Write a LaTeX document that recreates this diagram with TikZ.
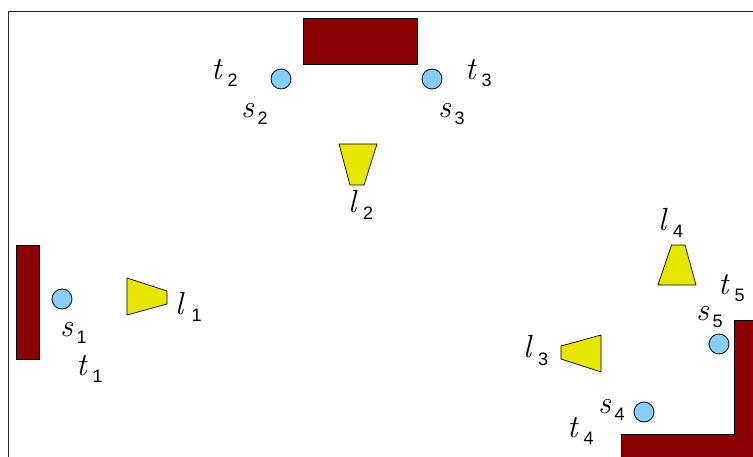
\documentclass[tikz,border=0pt]{standalone}
\usepackage{fontspec}
\setsansfont{Liberation Sans}
\usepackage{xcolor}
\usetikzlibrary{positioning}
\definecolor{wallred}{RGB}{139,0,0}
\definecolor{sensorblue}{RGB}{135,206,250}
\definecolor{lampyellow}{RGB}{230,230,0}
\newcommand{\sublabel}[3][16.5pt]{\makebox[#1][l]{\fontsize{32}{34}\selectfont\itshape #2}%
  \raisebox{-7pt}{\fontsize{18}{19}\selectfont\sffamily #3}}

\begin{document}
\begin{tikzpicture}[
  x=1pt, y=-1pt,
  wall/.style   = {draw=black, fill=wallred, line width=0.7pt},
  lamp/.style   = {draw=black, fill=lampyellow, line width=0.7pt, line join=miter},
  sensor/.style = {circle, draw=black, fill=sensorblue, minimum size=20pt,
                   inner sep=0pt, line width=0.8pt},
  lbl/.style    = {anchor=base west, inner sep=0pt},
]
\clip (0,0) rectangle (753,457);
% frame of the room
\draw[line width=0.8pt, black!85] (8,470) -- (8,11) -- (770,11);

% walls
\draw[wall] (303,18) rectangle (417,64);
\draw[wall] (16,245) rectangle (39,359);
\draw[wall] (621,470) -- (621,434.5) -- (734.5,434.5) -- (734.5,320.7)
            -- (770,320.7) -- (770,470) -- cycle;

% lamps
\draw[lamp] (339,144) -- (377,144) -- (364,185) -- (350,185) -- cycle;
\draw[lamp] (127,278) -- (167,291) -- (167,304) -- (127,315) -- cycle;
\draw[lamp] (671.5,245) -- (685,245) -- (696,285) -- (658,285) -- cycle;
\draw[lamp] (601,335) -- (601,372) -- (561,359) -- (561,346) -- cycle;

% sensors
\node[sensor] (c1) at (62,299)  {};
\node[sensor] (c2) at (281,79)  {};
\node[sensor] (c3) at (432,79)  {};
\node[sensor] (c4) at (644,412) {};
\node[sensor] (c5) at (719,344) {};

% labels
\node[lbl] (s1) at (60,337)  {\sublabel{s}{1}};
\node[lbl] (t1) at (76,375)  {\sublabel{t}{1}};
\node[lbl] (t2) at (211,80)  {\sublabel{t}{2}};
\node[lbl] (s2) at (241,118) {\sublabel{s}{2}};
\node[lbl] (s3) at (438,118) {\sublabel{s}{3}};
\node[lbl] (t3) at (465,80)  {\sublabel{t}{3}};
\node[lbl] (s4) at (598,413) {\sublabel{s}{4}};
\node[lbl] (t4) at (567,437) {\sublabel{t}{4}};
\node[lbl] (s5) at (696,320) {\sublabel{s}{5}};
\node[lbl] (t5) at (718,295) {\sublabel{t}{5}};
\node[lbl] (l1) at (175,315) {\sublabel[16.5pt]{l}{1}};
\node[lbl] (l2) at (348,213) {\sublabel[15pt]{l}{2}};
\node[lbl] (l3) at (523,358) {\sublabel[15pt]{l}{3}};
\node[lbl] (l4) at (658,231) {\sublabel[15pt]{l}{4}};
\end{tikzpicture}
\end{document}
